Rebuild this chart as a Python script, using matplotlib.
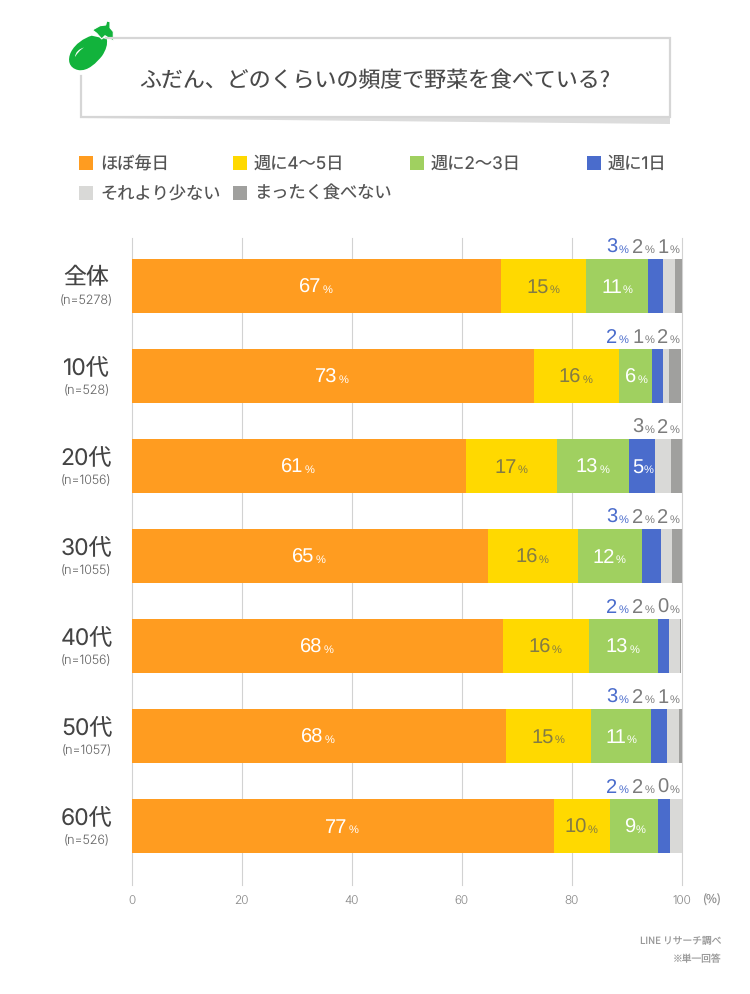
import matplotlib
matplotlib.use('Agg')
import matplotlib.pyplot as plt
import numpy as np
from matplotlib.patches import PathPatch, Polygon, Rectangle
from matplotlib.path import Path

plt.rcParams['font.family'] = ['Noto Sans CJK JP', 'DejaVu Sans']
plt.rcParams['text.hinting'] = 'no_hinting'

# 読み取った値
groups = ['全体', '10代', '20代', '30代', '40代', '50代', '60代']
sample_sizes = ['(n=5278)', '(n=528)', '(n=1056)', '(n=1055)', '(n=1056)', '(n=1057)', '(n=526)']
series_names = ['ほぼ毎日', '週に4〜5日', '週に2〜3日', '週に1日', 'それより少ない', 'まったく食べない']
daily = [67.2, 73.1, 60.8, 64.8, 67.5, 68.1, 76.8]
week_4_5 = [15.4, 15.5, 16.6, 16.3, 15.6, 15.4, 10.2]
week_2_3 = [11.3, 6.0, 13.1, 11.7, 12.6, 11.0, 8.7]
week_1 = [2.8, 2.0, 4.6, 3.4, 2.0, 2.9, 2.2]
less = [2.1, 1.1, 2.9, 2.1, 2.0, 2.1, 2.1]
never = [1.2, 2.3, 2.0, 1.7, 0.3, 0.5, 0.0]

# 表示ラベル(丸めた値)
label_daily = ['67', '73', '61', '65', '68', '68', '77']
label_4_5 = ['15', '16', '17', '16', '16', '15', '10']
label_2_3 = ['11', '6', '13', '12', '13', '11', '9']
label_1 = ['3', '2', '5', '3', '2', '3', '2']
label_less = ['2', '1', '3', '2', '2', '2', '2']
label_never = ['1', '2', '2', '2', '0', '1', '0']

colors = ['#ff9c20', '#ffd900', '#a0d060', '#4a6ccc', '#d9d9d7', '#a0a09e']
text_gray = '#7c7c7c'
text_olive = '#837b45'
latin_cjk = ['Inter', 'Noto Sans CJK JP']

fig = plt.figure(figsize=(7.5, 9.94), dpi=100)

# グラフ本体
ax = fig.add_axes([131.5 / 750, 1 - 885 / 994, 550 / 750, (885 - 238) / 994])
y = np.arange(len(groups))
values = [daily, week_4_5, week_2_3, week_1, less, never]
left = np.zeros(len(groups))
lefts = []
for vals, color, name in zip(values, colors, series_names):
    ax.barh(y, vals, 0.6, left=left, color=color, label=name, zorder=2)
    lefts.append(left.copy())
    left = left + np.array(vals)

ax.set_xlim(0, 100)
ax.set_ylim((885 - 286) / 90, (238 - 286) / 90)
ax.set_xticks([0, 20, 40, 60, 80, 100])
ax.set_yticks([])
ax.grid(axis='x', color='#d2d2d2', linewidth=0.8, zorder=0)
for line in ax.get_xgridlines():
    line.set_clip_on(False)
ax.tick_params(axis='x', length=0, pad=8, labelsize=8.5, labelcolor='#8c8c8c')
for lab in ax.get_xticklabels():
    lab.set_family('Inter')
    lab.set_fontweight('light')
for spine in ax.spines.values():
    spine.set_visible(False)


def put_label(x, row, num, color, dx, dy=-7):
    # 数字と小さい%を同じベースラインに並べる
    ax.annotate(num, xy=(x, row), xytext=(dx * 0.72, dy * 0.72), textcoords='offset points',
                ha='right', va='baseline', fontsize=14.5, color=color, family='Liberation Sans', zorder=3)
    ax.annotate('%', xy=(x, row), xytext=((dx + 1) * 0.72, dy * 0.72), textcoords='offset points',
                ha='left', va='baseline', fontsize=8, color=color, family='Liberation Sans', zorder=3)


inside = [(0, label_daily, 'white'), (1, label_4_5, text_olive), (2, label_2_3, 'white')]
for idx, labels, color in inside:
    for i, lab in enumerate(labels):
        cx = lefts[idx][i] + values[idx][i] / 2
        put_label(cx, i, lab, color, 5 if len(lab) > 1 else 1)

for i in range(len(groups)):
    # 20代の週に1日だけバーの中
    if groups[i] == '20代':
        cx = lefts[3][i] + week_1[i] / 2
        put_label(cx, i, label_1[i], 'white', 1)
    else:
        put_label(100, i, label_1[i], colors[3], -64, 33)
    put_label(100, i, label_less[i], text_gray, -38, 33)
    put_label(100, i, label_never[i], text_gray, -13, 33)
    ax.annotate(groups[i], xy=(0, i), xytext=(-45 * 0.72, 8 * 0.72), textcoords='offset points',
                ha='center', va='center', fontsize=16.5, color='#444444', family=latin_cjk)
    ax.annotate(sample_sizes[i], xy=(0, i), xytext=(-45 * 0.72, -15 * 0.72), textcoords='offset points',
                ha='center', va='center', fontsize=9, color='#666666', family='Inter', fontweight='light')

# 装飾用のピクセル座標レイヤー
deco = fig.add_axes([0, 0, 1, 1], zorder=5)
deco.set_xlim(0, 750)
deco.set_ylim(994, 0)
deco.axis('off')

# タイトルの枠
deco.add_patch(Polygon([(80, 116), (670, 116), (670, 124), (80, 118)], closed=True, color='#dcdcdc', lw=0))
deco.plot([106, 669.5, 669.5, 80.5, 80.5], [37.5, 37.5, 117, 117, 76], color='#d6d6d6', lw=1.6,
          solid_joinstyle='miter')
deco.text(375, 80.5, 'ふだん、どのくらいの頻度で野菜を食べている?', ha='center', va='center',
          fontsize=15.8, color='#4a4a4a')

# ナスのアイコン
green = '#12b33c'
body = Path([(91.7, 35.7), (84, 38), (75, 44), (71, 52), (67, 60), (69, 68), (78, 70),
             (88, 72), (97, 62), (102, 56), (106, 50), (108, 44), (106.7, 39), (91.7, 35.7)],
            [Path.MOVETO] + [Path.CURVE4] * 12 + [Path.LINETO])
deco.add_patch(PathPatch(body, facecolor=green, edgecolor='none'))
calyx = Path([(92.3, 30), (100, 25.7), (105.7, 25), (106.7, 21), (110, 21.7), (110, 27.7), (113.3, 31.7),
              (113.3, 41), (105, 35.7), (101.7, 39), (96.7, 33.3), (92.3, 30)])
deco.add_patch(PathPatch(calyx, facecolor=green, edgecolor='white', lw=0.8))
shine = Path([(75, 57), (75.5, 52), (79, 49), (84, 47.5), (80, 50), (77.5, 53), (75, 57)],
             [Path.MOVETO] + [Path.CURVE4] * 6)
deco.add_patch(PathPatch(shine, facecolor='white', edgecolor='none'))

# 凡例
legend_x = [79, 233, 410, 587, 79, 233]
legend_y = [163, 163, 163, 163, 193, 193]
for name, color, lx, ly in zip(series_names, colors, legend_x, legend_y):
    deco.add_patch(Rectangle((lx, ly - 7), 14, 14, facecolor=color, edgecolor='none'))
    deco.text(lx + 21, ly + 1.5, name, ha='left', va='center', fontsize=12.4, color='#555555', family=latin_cjk)

deco.text(702, 900, '(%)', ha='left', va='center', fontsize=8.5, color='#8c8c8c')
deco.text(721, 941, 'LINE リサーチ調べ', ha='right', va='center', fontsize=7, color='#999999')
deco.text(721, 959, '※単一回答', ha='right', va='center', fontsize=7, color='#999999')

plt.savefig('out.png', dpi=100)
